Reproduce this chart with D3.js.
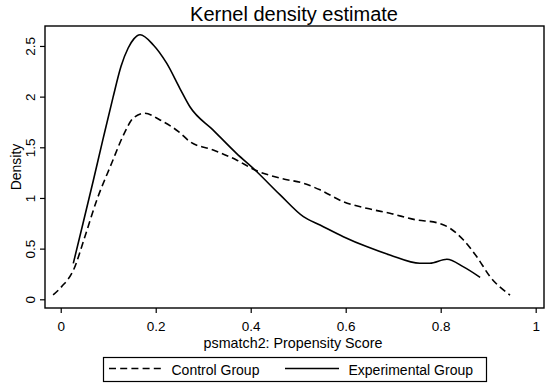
<!DOCTYPE html>
<html>
<head>
<meta charset="utf-8">
<script src="https://cdn.jsdelivr.net/npm/d3@7"></script>
<style>
  body { margin: 0; background: #fff; }
  text { font-family: "Liberation Sans", Arial, sans-serif; fill: #000; }
</style>
</head>
<body>
<div id="chart"></div>
<script>
// values
var controlX = [-0.016, 0.002, 0.027, 0.051, 0.076, 0.107, 0.132, 0.153, 0.177, 0.209, 0.248, 0.272, 0.321, 0.37, 0.409, 0.462, 0.511, 0.546, 0.595, 0.644, 0.693, 0.749, 0.792, 0.82, 0.848, 0.876, 0.904, 0.946];
var controlY = [0.043, 0.125, 0.29, 0.62, 0.98, 1.34, 1.62, 1.79, 1.836, 1.77, 1.655, 1.556, 1.474, 1.375, 1.276, 1.195, 1.145, 1.08, 0.963, 0.898, 0.849, 0.783, 0.756, 0.70, 0.585, 0.42, 0.223, 0.042];

var experimentalX = [0.0265, 0.047, 0.068, 0.089, 0.110, 0.127, 0.142, 0.154, 0.167, 0.195, 0.223, 0.251, 0.272, 0.321, 0.37, 0.409, 0.462, 0.511, 0.546, 0.595, 0.644, 0.693, 0.756, 0.777, 0.813, 0.848, 0.883];
var experimentalY = [0.355, 0.75, 1.16, 1.58, 1.99, 2.30, 2.48, 2.57, 2.61, 2.51, 2.33, 2.08, 1.90, 1.67, 1.44, 1.276, 1.03, 0.815, 0.733, 0.618, 0.52, 0.437, 0.355, 0.355, 0.395, 0.32, 0.217];

var xTicks = [0, 0.2, 0.4, 0.6, 0.8, 1];
var yTicks = [0, 0.5, 1, 1.5, 2, 2.5];
var seriesNames = ["Control Group", "Experimental Group"];

var width = 550, height = 391;
var plot = { left: 45, top: 26, right: 544, bottom: 308 };

var svg = d3.select("#chart").append("svg")
  .attr("width", width)
  .attr("height", height);

var x = d3.scaleLinear().domain([-0.0331, 1.0175]).range([plot.left, plot.right]);
var y = d3.scaleLinear().domain([-0.0859, 2.697]).range([plot.bottom, plot.top]);

// title
svg.append("text")
  .attr("x", 294)
  .attr("y", 20.5)
  .attr("text-anchor", "middle")
  .style("font-size", "20px")
  .text("Kernel density estimate");

// x axis
var xAxis = svg.append("g")
  .attr("transform", "translate(0," + plot.bottom + ")")
  .call(d3.axisBottom(x).tickValues(xTicks).tickSize(5).tickPadding(8).tickFormat(d3.format("~g")));
xAxis.select(".domain").remove();
xAxis.selectAll("line").attr("stroke", "#000").attr("stroke-width", 1.2);
xAxis.selectAll("text").style("font-size", "13.5px").attr("font-family", null);

// y axis, labels turned on their side
var yAxis = svg.append("g")
  .attr("transform", "translate(" + plot.left + ",0)")
  .call(d3.axisLeft(y).tickValues(yTicks).tickSize(5).tickFormat(d3.format("~g")));
yAxis.select(".domain").remove();
yAxis.selectAll("line").attr("stroke", "#000").attr("stroke-width", 1.2);
yAxis.selectAll("text")
  .attr("x", 0).attr("y", -10.5).attr("dy", null)
  .attr("transform", "rotate(-90)")
  .attr("text-anchor", "middle")
  .attr("font-family", null)
  .style("font-size", "13.5px");

// axis titles
svg.append("text")
  .attr("x", 293)
  .attr("y", 348)
  .attr("text-anchor", "middle")
  .style("font-size", "14.3px")
  .text("psmatch2: Propensity Score");

svg.append("text")
  .attr("transform", "translate(21," + ((plot.top + plot.bottom) / 2) + ") rotate(-90)")
  .attr("text-anchor", "middle")
  .style("font-size", "14px")
  .text("Density");

// curves
var line = d3.line()
  .x(function(d) { return x(d[0]); })
  .y(function(d) { return y(d[1]); })
  .curve(d3.curveMonotoneX);

var control = d3.zip(controlX, controlY);
var experimental = d3.zip(experimentalX, experimentalY);

svg.append("path")
  .datum(control)
  .attr("d", line)
  .attr("fill", "none")
  .attr("stroke", "#000")
  .attr("stroke-width", 1.6)
  .attr("stroke-dasharray", "7,4");

svg.append("path")
  .datum(experimental)
  .attr("d", line)
  .attr("fill", "none")
  .attr("stroke", "#000")
  .attr("stroke-width", 1.6);

// plot frame
svg.append("rect")
  .attr("x", plot.left)
  .attr("y", plot.top)
  .attr("width", plot.right - plot.left)
  .attr("height", plot.bottom - plot.top)
  .attr("fill", "none")
  .attr("stroke", "#000")
  .attr("stroke-width", 1.4);

// legend
var legend = svg.append("g");
legend.append("rect")
  .attr("x", 103.5).attr("y", 357.5)
  .attr("width", 383).attr("height", 24)
  .attr("fill", "none")
  .attr("stroke", "#000")
  .attr("stroke-width", 1.2);

var legendItems = [
  { name: seriesNames[0], x1: 109, x2: 162, tx: 171.5, dash: "7,4.2" },
  { name: seriesNames[1], x1: 285, x2: 339, tx: 348.5, dash: null }
];
legendItems.forEach(function(d) {
  legend.append("line")
    .attr("x1", d.x1).attr("x2", d.x2)
    .attr("y1", 368.5).attr("y2", 368.5)
    .attr("stroke", "#000")
    .attr("stroke-width", 1.6)
    .attr("stroke-dasharray", d.dash);
  legend.append("text")
    .attr("x", d.tx)
    .attr("y", 375)
    .style("font-size", "14px")
    .text(d.name);
});
</script>
</body>
</html>
